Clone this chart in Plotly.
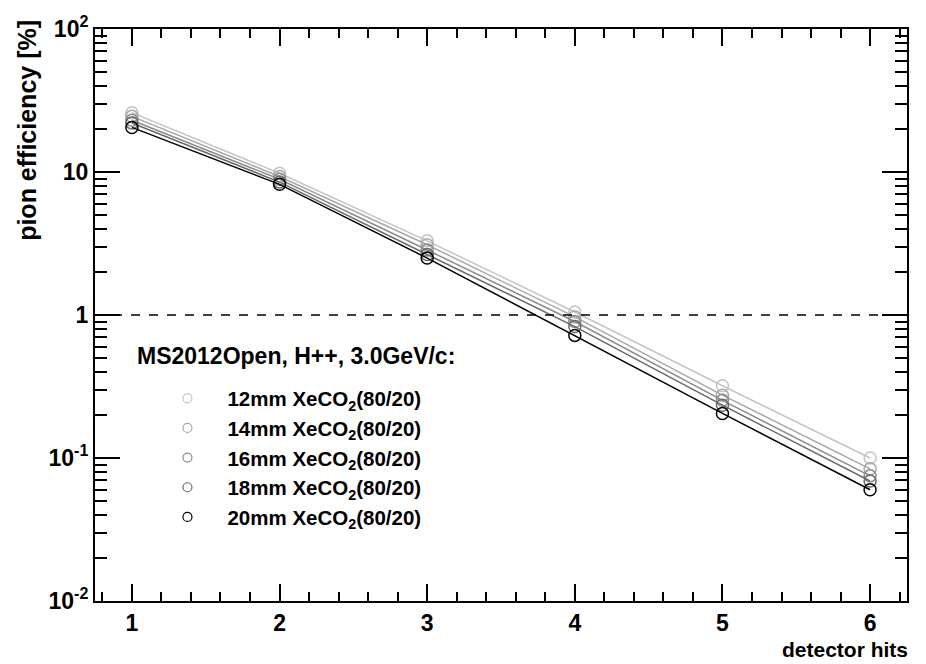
import plotly.graph_objects as go

hits = [1, 2, 3, 4, 5, 6]
eff_12 = [26.0, 9.8, 3.3, 1.05, 0.32, 0.100]
eff_14 = [24.5, 9.3, 3.1, 0.97, 0.275, 0.084]
eff_16 = [23.0, 8.9, 2.85, 0.90, 0.253, 0.075]
eff_18 = [22.0, 8.5, 2.65, 0.83, 0.234, 0.069]
eff_20 = [20.5, 8.2, 2.5, 0.72, 0.205, 0.060]

labels = ["12mm XeCO<sub>2</sub>(80/20)", "14mm XeCO<sub>2</sub>(80/20)",
          "16mm XeCO<sub>2</sub>(80/20)", "18mm XeCO<sub>2</sub>(80/20)",
          "20mm XeCO<sub>2</sub>(80/20)"]
series = [eff_12, eff_14, eff_16, eff_18, eff_20]
colors = ["#c4c4c4", "#a8a8a8", "#8c8c8c", "#6a6a6a", "#000000"]

legend_title = "MS2012Open, H++, 3.0GeV/c:"
ytickvals = [0.01, 0.1, 1, 10, 100]
yticktext = ["10<sup>-2</sup>", "10<sup>-1</sup>", "1", "10", "10<sup>2</sup>"]
xtickvals = [1, 2, 3, 4, 5, 6]
xticktext = ["1", "2", "3", "4", "5", "6"]

FONT = "Liberation Sans, Arial, sans-serif"

fig = go.Figure()

# data: markers joined by lines
for vals, col, lab in zip(series, colors, labels):
    fig.add_trace(go.Scatter(x=hits, y=vals, mode="lines+markers", name=lab, showlegend=False,
                             line=dict(color=col, width=1.5),
                             marker=dict(symbol="circle-open", size=12,
                                         color=col, line=dict(width=1.5, color=col))))

# legend entries (smaller symbols, like the reference legend)
for col, lab in zip(colors, labels):
    fig.add_trace(go.Scatter(x=[None], y=[None], mode="markers", name=lab,
                             marker=dict(symbol="circle-open", size=9,
                                         color=col, line=dict(width=1.2, color=col))))

minor_y = [m * 10.0 ** e for e in range(-2, 2) for m in range(2, 10)]

fig.update_layout(
    width=926, height=664,
    margin=dict(l=94.5, r=19, t=18.6, b=62.6),
    paper_bgcolor="white", plot_bgcolor="white",
    font=dict(family=FONT, size=20, color="black", weight="bold"),
    showlegend=True,
    legend=dict(x=0.0646, y=0.389, xanchor="left", yanchor="top",
                bgcolor="rgba(0,0,0,0)", itemsizing="trace",
                font=dict(size=20.5, family=FONT, weight="bold"),
                tracegroupgap=0, itemwidth=70),
    xaxis=dict(range=[0.75, 6.25], tickvals=xtickvals, ticktext=xticktext,
               ticks="inside", ticklen=17, tickwidth=1.5, tickcolor="black",
               showline=True, linecolor="black", linewidth=2, mirror="allticks",
               showgrid=False, zeroline=False,
               tickfont=dict(size=23, family=FONT, weight="bold"),
               minor=dict(dtick=0.2, ticks="inside", ticklen=9, tickwidth=1.5,
                          tickcolor="black", showgrid=False)),
    yaxis=dict(type="log", range=[-2, 2], tickvals=ytickvals, ticktext=yticktext,
               ticks="inside", ticklen=25, tickwidth=1.5, tickcolor="black",
               showline=True, linecolor="black", linewidth=2, mirror="allticks",
               showgrid=False, zeroline=False,
               tickfont=dict(size=23, family=FONT, weight="bold"),
               minor=dict(tickvals=minor_y, ticks="inside", ticklen=12, tickwidth=1.5,
                          tickcolor="black", showgrid=False)),
)

fig.add_shape(type="line", xref="paper", yref="y", x0=0, x1=1, y0=1, y1=1,
              line=dict(color="black", width=1.5, dash="dash"))

fig.add_annotation(xref="paper", yref="paper", x=0.049, y=0.428, xanchor="left", yanchor="middle",
                   text=legend_title, showarrow=False,
                   font=dict(size=23, family=FONT, weight="bold"))
fig.add_annotation(xref="paper", yref="paper", x=-0.084, y=1.02, xanchor="center", yanchor="top",
                   text="pion efficiency [%]", textangle=-90, showarrow=False,
                   font=dict(size=25, family=FONT, weight="bold"))
fig.add_annotation(xref="paper", yref="paper", x=1.004, y=-0.062, xanchor="right", yanchor="top",
                   text="detector hits", showarrow=False,
                   font=dict(size=21, family=FONT, weight="bold"))

fig.write_html("out.html")
